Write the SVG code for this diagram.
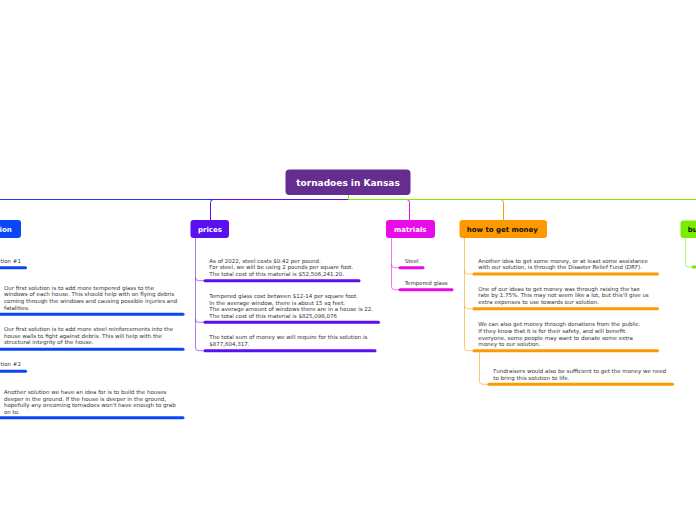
<svg xmlns="http://www.w3.org/2000/svg" width="696" height="520" viewBox="0 0 696 520">
<style>
text{font-family:"DejaVu Sans","Verdana",sans-serif}
.t{font-size:5.5px;fill:#333}
.h{font-size:7px;font-weight:bold}
.w{fill:#fff}
.k{fill:#111}
.c{fill:none;stroke-width:1}
.s{fill:none;stroke-width:1;stroke-opacity:0.55}
.b{fill:none;stroke-width:3;stroke-linecap:round}
.blue{stroke:#0a46f5}
.pur{stroke:#5a0ff0}
.mag{stroke:#e80ae8}
.ora{stroke:#ff9900}
.grn{stroke:#77ee00}
</style>
<rect width="696" height="520" fill="#fff"/>
<g id="connectors">
<path class="c blue" d="M348.5 199.5H-5"/>
<path class="c mag" d="M348.5 199.5H406.5Q409.5 199.5 409.5 202.5V220"/>
<path class="c ora" d="M348.5 199.5H500.5Q503.5 199.5 503.5 202.5V220"/>
<path class="c pur" d="M348.5 199.5H213.5Q210.5 199.5 210.5 202.5V220"/>
<path class="c grn" d="M348.5 195V199.5H700"/>
<path class="s pur" d="M195.5 238V277.7Q195.5 280.7 198.5 280.7H204M195.5 277V319.3Q195.5 322.3 198.5 322.3H204M195.5 319V347.7Q195.5 350.7 198.5 350.7H204"/>
<path class="s mag" d="M391.5 238V264.7Q391.5 267.7 394.5 267.7H399M391.5 264V286.7Q391.5 289.7 394.5 289.7H399"/>
<path class="s ora" d="M464.5 238V271Q464.5 274 467.5 274H473M464.5 270V305.7Q464.5 308.7 467.5 308.7H473M464.5 305V347.7Q464.5 350.7 467.5 350.7H473"/>
<path class="s ora" d="M479.5 352V381.3Q479.5 384.3 482.5 384.3H488"/>
<path class="s grn" d="M685.5 238V264Q685.5 267 688.5 267H692"/>
</g>
<g id="root">
<rect x="285.5" y="169.5" width="125" height="25.5" rx="4" fill="#662d91"/>
<text x="348" y="186" text-anchor="middle" style="font-size:9px;font-weight:bold" class="w">tornadoes in Kansas</text>
</g>
<g id="solution">
<rect x="-10" y="220" width="31" height="18" rx="3" fill="#0a46f5"/>
<text x="-0.5" y="232" class="h w">ion</text>
</g>
<g id="solution-1">
<text x="0.5" y="262.7" class="t">tion #1</text>
<path class="b blue" d="M-5 267.7H25.5"/>
</g>
<g id="solution-glass">
<text class="t"><tspan x="4" y="289.8">Our first solution is to add more tempered glass to the</tspan><tspan x="4" y="296.4">windows of each house. This should help with on flying debris</tspan><tspan x="4" y="303">coming through the windows and causing possible injuries and</tspan><tspan x="4" y="309.6">fatalities.</tspan></text>
<path class="b blue" d="M-5 314.3H183"/>
</g>
<g id="solution-steel">
<text class="t"><tspan x="4" y="331">Our first solution is to add more steel reinforcements into the</tspan><tspan x="4" y="337.6">house walls to fight against debris. This will help with the</tspan><tspan x="4" y="344.2">structural integrity of the house.</tspan></text>
<path class="b blue" d="M-5 349.3H183"/>
</g>
<g id="solution-2">
<text x="0.5" y="366" class="t">tion #2</text>
<path class="b blue" d="M-5 371.3H25.5"/>
</g>
<g id="solution-deeper">
<text class="t"><tspan x="4" y="394">Another solution we have an idea for is to build the houses</tspan><tspan x="4" y="400.6">deeper in the ground.  If the house is deeper in the ground,</tspan><tspan x="4" y="407.2">hopefully any oncoming tornadoes won't have enough to grab</tspan><tspan x="4" y="413.8">on to.</tspan></text>
<path class="b blue" d="M-5 417.7H183"/>
</g>
<g id="prices">
<rect x="190.5" y="220" width="38.5" height="18" rx="3" fill="#5a0ff0"/>
<text x="198" y="232" class="h w">prices</text>
</g>
<g id="prices-steel">
<text class="t"><tspan x="209.3" y="262.7">As of 2022, steel costs $0.42 per pound.</tspan><tspan x="209.3" y="269.3">For steel, we will be using 2 pounds per square foot.</tspan><tspan x="209.3" y="275.9">The total cost of this material is $52,506,241.20.</tspan></text>
<path class="b pur" d="M205 280.7H359"/>
</g>
<g id="prices-glass">
<text class="t"><tspan x="209.3" y="298">Tempered glass cost between $12-14 per square foot.</tspan><tspan x="209.3" y="304.6">In the average window, there is about 15 sq feet.</tspan><tspan x="209.3" y="311.2">The average amount of windows there are in a house is 22.</tspan><tspan x="209.3" y="317.8">The total cost of this material is $825,098,076</tspan></text>
<path class="b pur" d="M205 322.3H378.5"/>
</g>
<g id="prices-total">
<text class="t"><tspan x="209.3" y="339">The total sum of money we will require for this solution is</tspan><tspan x="209.3" y="345.6">$877,604,317.</tspan></text>
<path class="b pur" d="M205 350.7H375"/>
</g>
<g id="matrials">
<rect x="386" y="220" width="49" height="18" rx="3" fill="#e80ae8"/>
<text x="394" y="232" class="h w">matrials</text>
</g>
<g id="matrials-steel">
<text x="404.7" y="262.7" class="t">Steel</text>
<path class="b mag" d="M400 267.7H423"/>
</g>
<g id="matrials-glass">
<text x="404.7" y="285.3" class="t">Tempered glass</text>
<path class="b mag" d="M400 289.7H452"/>
</g>
<g id="money">
<rect x="459.5" y="220" width="87.5" height="18" rx="3" fill="#ff9900"/>
<text x="466.7" y="232" class="h k">how to get money</text>
</g>
<g id="money-drf">
<text class="t"><tspan x="478.3" y="262.7">Another idea to get some money, or at least some assistance</tspan><tspan x="478.3" y="269.3">with our solution, is through the Disaster Relief Fund (DRF).</tspan></text>
<path class="b ora" d="M474 274H657.5"/>
</g>
<g id="money-tax">
<text class="t"><tspan x="478.3" y="290.7">One of our ideas to get money was through raising the tax</tspan><tspan x="478.3" y="297.3">rate by 1.75%. This may not seem like a lot, but this'll give us</tspan><tspan x="478.3" y="303.9">extra expenses to use towards our solution.</tspan></text>
<path class="b ora" d="M474 308.7H657.5"/>
</g>
<g id="money-donations">
<text class="t"><tspan x="478.3" y="326.3">We can also get money through donations from the public.</tspan><tspan x="478.3" y="332.9">If they know that it is for their safety, and will benefit</tspan><tspan x="478.3" y="339.5">everyone, some people may want to donate some extra</tspan><tspan x="478.3" y="346.1">money to our solution.</tspan></text>
<path class="b ora" d="M474 350.7H657.5"/>
</g>
<g id="money-fundraisers">
<text class="t"><tspan x="493.3" y="373">Fundraisers would also be sufficient to get the money we need</tspan><tspan x="493.3" y="379.6">to bring this solution to life.</tspan></text>
<path class="b ora" d="M489 384.3H672.5"/>
</g>
<g id="bu">
<rect x="680.5" y="220.5" width="30" height="17.5" rx="3" fill="#77ee00"/>
<text x="687.7" y="232" class="h k">bu</text>
</g>
<g id="bu-child">
<path class="b grn" d="M693 267H700"/>
</g>
</svg>
